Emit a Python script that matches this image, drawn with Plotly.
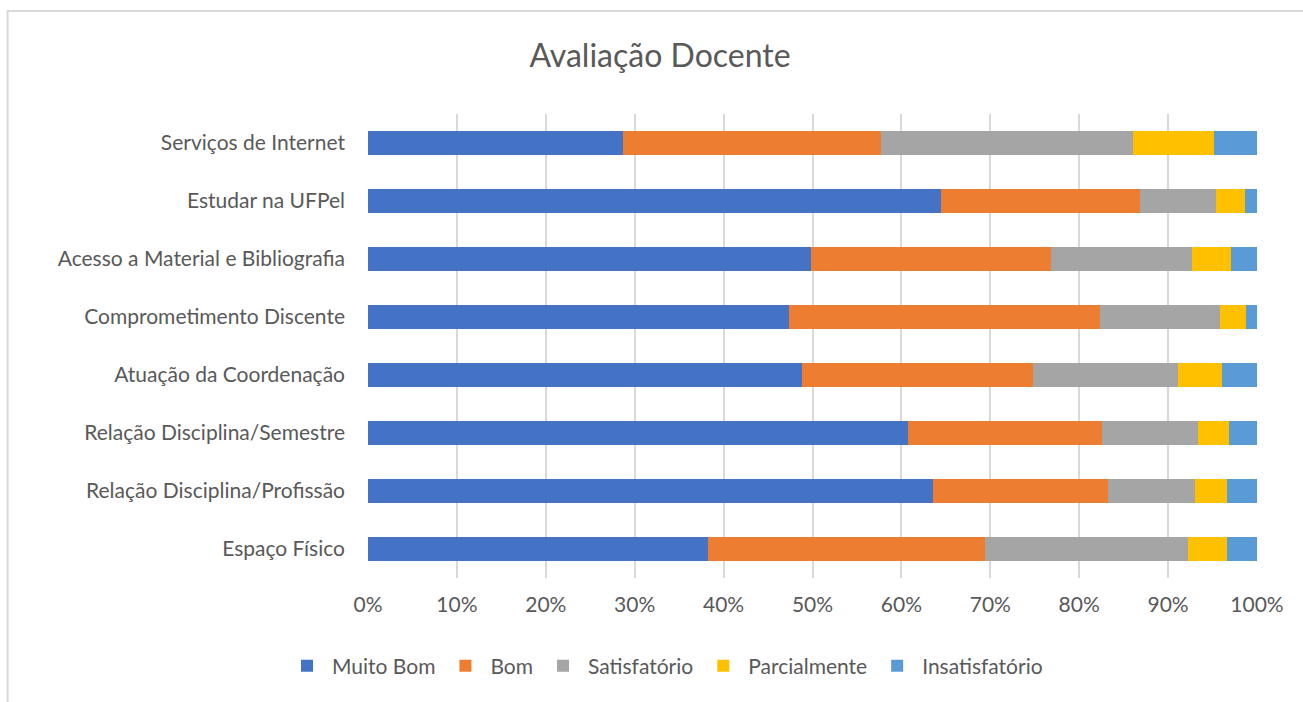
import plotly.graph_objects as go

categories = [
    "Serviços de Internet",
    "Estudar na UFPel",
    "Acesso a Material e Bibliografia",
    "Comprometimento Discente",
    "Atuação da Coordenação",
    "Relação Disciplina/Semestre",
    "Relação Disciplina/Profissão",
    "Espaço Físico",
]

series_names = ["Muito Bom", "Bom", "Satisfatório", "Parcialmente", "Insatisfatório"]
muito_bom = [28.7, 64.5, 49.8, 47.4, 48.8, 60.7, 63.5, 38.3]
bom = [29.0, 22.3, 27.0, 34.9, 26.0, 21.9, 19.7, 31.1]
satisfatorio = [28.3, 8.6, 15.9, 13.5, 16.3, 10.8, 9.8, 22.8]
parcialmente = [9.2, 3.3, 4.4, 3.0, 5.0, 3.4, 3.6, 4.4]
insatisfatorio = [4.8, 1.3, 2.9, 1.2, 3.9, 3.2, 3.4, 3.4]

series_values = [muito_bom, bom, satisfatorio, parcialmente, insatisfatorio]
colors = ["#4472C4", "#ED7D31", "#A5A5A5", "#FFC000", "#5B9BD5"]

tick_vals = [0, 10, 20, 30, 40, 50, 60, 70, 80, 90, 100]
tick_text = ["0%", "10%", "20%", "30%", "40%", "50%", "60%", "70%", "80%", "90%", "100%"]

FONT = "Lato"
L, R, T, B = 367.5, 1256.7, 114, 578

fig = go.Figure()
for name, vals, col in zip(series_names, series_values, colors):
    fig.add_trace(go.Bar(
        y=categories, x=vals, name=name, orientation="h",
        marker=dict(color=col, line=dict(width=0)),
    ))

fig.update_layout(
    barmode="stack",
    bargap=0.6,
    width=1303, height=702,
    margin=dict(l=L, r=1303 - R, t=T, b=702 - B),
    paper_bgcolor="white", plot_bgcolor="white",
    font=dict(family=FONT, color="#595959", size=21),
    title=dict(text="Avaliação Docente", x=660 / 1303, xref="container", y=1 - 56 / 702,
               yref="container", xanchor="center", yanchor="middle",
               font=dict(family=FONT, size=32, color="#595959")),
    legend=dict(orientation="h", xref="container", yref="container",
                x=665 / 1303, y=1 - 666 / 702, xanchor="center", yanchor="middle",
                font=dict(family=FONT, size=21, color="#595959"),
                traceorder="normal", itemwidth=40),
    xaxis=dict(range=[0, 100], tickvals=tick_vals, ticktext=tick_text,
               showgrid=True, gridcolor="#D9D9D9", gridwidth=2,
               zeroline=False, showline=False, ticks="",
               ticklabelstandoff=12, tickfont=dict(size=21, color="#595959")),
    yaxis=dict(autorange="reversed", showgrid=False, ticks="", showline=False,
               ticklabelstandoff=22, tickfont=dict(size=21, color="#595959")),
    shapes=[dict(type="rect", xref="paper", yref="paper",
                 x0=(7 - L) / (R - L), x1=(1320 - L) / (R - L),
                 y0=(B - 720) / (B - T), y1=(B - 11) / (B - T),
                 line=dict(color="#D9D9D9", width=2), fillcolor="rgba(0,0,0,0)", layer="below")],
)

fig.write_html("out.html", config={"displayModeBar": False},
               post_script="document.body.style.margin='0';document.body.style.overflow='hidden';")
